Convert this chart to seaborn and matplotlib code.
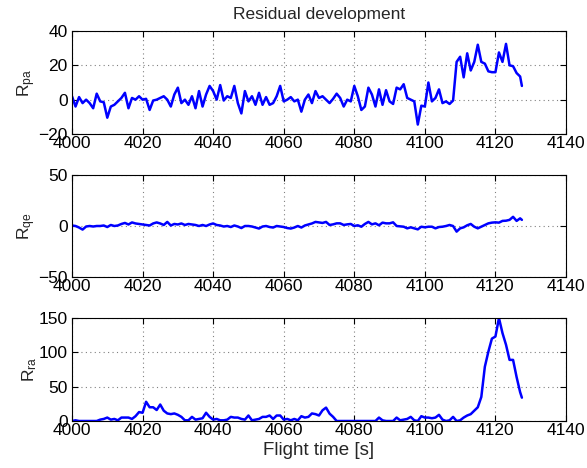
import numpy as np
import pandas as pd
import matplotlib
matplotlib.use("Agg")
import matplotlib.pyplot as plt
import seaborn as sns

# ---------------- data ----------------
time_s = np.append(np.arange(4000, 4128), 4127.5)

r_pa = [2, -4, 1.5, -2, 0, -2, -5, 3.5, -1, -1.5,
        -10.5, -4, -3, -1, 1, 4, -5, 1, 0, 2,
        0, 0.5, -6, -0.5, 0, 1, 2, 0, -4, 3,
        7, -2, 0, -3, 2, -5, 5, -4, 3, 8,
        5, 0, 8.5, -0.5, 2, 1, 8, -2, -8, 5,
        -1, 2, -3, 4, -3, 1.5, -3, -2, 2, 8,
        -1, 0, 1.5, -1, 0, -7, 0, 3, -2, 5,
        1, 2, 0, -2, 0.5, 3.5, 1, -4, 0, -1,
        8, 2, -6, -4, 7, 3, -4, 6, -3, 5.5,
        -1, -2.5, 7, 6, 9, 1, 0, -1, -14.5, -3.5,
        -4, 10, -1, 1, 6, -2, -1, -2.5, -0.5, 22,
        25, 13, 27, 17, 22, 32, 22, 21, 16.5, 16,
        16, 27.5, 22, 32.5, 20, 19.5, 15.5, 13.5,
        8]

r_qe = [0.5, 0, -1.5, -3.5, -0.5, 0, -0.5, 0, 0, 0.5,
        -1, 1, 0, 0.5, 2, 3, 1.5, 3.5, 2.5, 2,
        1.5, 1, 0.5, 2.5, 3.5, 2.5, 1, 4, 0.5, 2,
        1.5, 2.5, 1, 2, 1.5, 1, 0, 1, 0, 1.5,
        2.5, 1, 0.5, -0.5, 0, -1, 0.5, -0.5, -2, 0,
        0, -0.5, -1.5, -2.5, -0.5, 0, -1, -1.5, 0, -0.5,
        -1, -2, -2.5, -1.5, 0, -1.5, 0.5, 1.5, 2.5, 4,
        3.5, 3, 4, 1, 1.6, 2.6, 2.6, 1, 1.6, 2,
        0, 0.7, -0.7, 2, 4, 1.6, 2.6, 0.7, 3.3, 2.6,
        2.6, 3.6, 0, -0.3, -0.7, -2.3, -1.3, -2.3, -3.3, -0.7,
        -1.3, -0.7, -0.7, -2.3, -1, -0.7, 0, 1, 0, -5.5,
        -2.3, -1.3, 0.7, 2, -0.7, -2.3, -0.7, 1, 2.6, 3.3,
        3.6, 3.3, 5, 5.2, 6, 9, 5, 7.5,
        6]

r_ra = [0, 1, 0, 0, 0, 0, 0, 0, 2, 3,
        5, 2, 3, 1, 5, 5, 5, 3, 7, 13,
        12, 28, 20, 20, 16, 24, 15, 11, 10, 11,
        9, 6, 1, 1, 6, 2, 3, 4, 12, 6,
        2, 3, 1, 1, 2, 6, 5, 5, 3, 2,
        8, 1, 2, 3, 6, 6, 8, 3, 8, 8,
        2, 3, 1, 3, 1, 7, 5, 6, 11, 10,
        8, 15.6, 19.5, 10.7, 6, 0, 0, 0, 0, 0,
        0, 0, 0, 0, 0, 0, 0, 5, 1, 0,
        0, 0, 5, 1, 2, 3, 6, 1, 0, 7,
        5, 5, 4, 5, 9, 2, 0, 1, 6, 0,
        1, 5, 8, 10, 15, 20, 35, 79, 101, 120,
        123, 150, 128, 111, 89, 89, 64, 42,
        34]

x_ticks = [4000, 4020, 4040, 4060, 4080, 4100, 4120, 4140]
pa_ticks = [-20, 0, 20, 40]
qe_ticks = [-50, 0, 50]
ra_ticks = [0, 50, 100, 150]

df = pd.DataFrame({"t": time_s, "pa": r_pa, "qe": r_qe, "ra": r_ra})

# ---------------- style ----------------
sns.set_style("ticks")
plt.rcParams["font.family"] = ["Liberation Sans", "DejaVu Sans"]
plt.rcParams["mathtext.fontset"] = "custom"
plt.rcParams["mathtext.rm"] = "Liberation Sans"
plt.rcParams["mathtext.it"] = "Liberation Sans"

fig = plt.figure(figsize=(5.87, 4.68), dpi=100)
W, H = 587.0, 468.0
boxes = [(72, 31, 566, 134), (72, 175, 566, 277), (72, 318, 566, 421)]
specs = [("pa", r"R$_{\mathrm{pa}}$", (-20, 40), pa_ticks),
         ("qe", r"R$_{\mathrm{qe}}$", (-50, 50), qe_ticks),
         ("ra", r"R$_{\mathrm{ra}}$", (0, 150), ra_ticks)]

axes = []
for (l, t, r, b), (col, lab, ylim, yt) in zip(boxes, specs):
    ax = fig.add_axes([l / W, (H - b) / H, (r - l) / W, (b - t) / H])
    sns.lineplot(data=df, x="t", y=col, ax=ax, color=(0, 0, 1), linewidth=1.8)
    ax.set_xlim(4000, 4140)
    ax.set_ylim(*ylim)
    ax.set_xticks(x_ticks)
    ax.set_yticks(yt)
    ax.grid(True, linestyle=(0, (1, 3)), color="0.5", linewidth=0.8)
    ax.tick_params(direction="in", length=4, width=0.8, labelsize=12.5,
                   top=True, right=True, colors="black")
    ax.tick_params(axis="x", pad=1.5)
    ax.tick_params(axis="y", pad=3)
    for s in ax.spines.values():
        s.set_visible(True)
        s.set_linewidth(0.8)
        s.set_color("black")
    ax.set_xlabel("")
    ax.set_ylabel(lab, fontsize=12.5, labelpad=0)
    axes.append(ax)

axes[0].set_title("Residual development", fontsize=12.5, pad=9)
axes[2].set_xlabel("Flight time [s]", fontsize=13.5, labelpad=3)

fig.savefig("out.png", dpi=100, facecolor="white")
